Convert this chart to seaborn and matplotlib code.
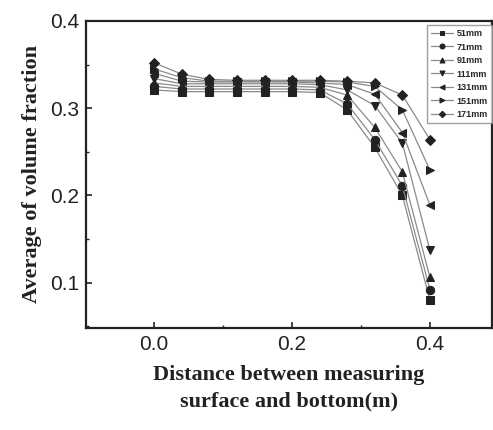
import numpy as np
import pandas as pd
import matplotlib
matplotlib.use('Agg')
import matplotlib.pyplot as plt
from matplotlib.ticker import MultipleLocator
import seaborn as sns

# Data
distance = [0.0, 0.04, 0.08, 0.12, 0.16, 0.20, 0.24, 0.28, 0.32, 0.36, 0.40]
labels = ['51mm', '71mm', '91mm', '111mm', '131mm', '151mm', '171mm']
markers = ['s', 'o', '^', 'v', '<', '>', 'D']

s51 = [0.321, 0.319, 0.319, 0.319, 0.319, 0.319, 0.318, 0.298, 0.255, 0.200, 0.080]
s71 = [0.325, 0.322, 0.322, 0.322, 0.322, 0.322, 0.321, 0.305, 0.264, 0.211, 0.092]
s91 = [0.329, 0.325, 0.325, 0.325, 0.325, 0.325, 0.324, 0.315, 0.278, 0.227, 0.106]
s111 = [0.334, 0.328, 0.328, 0.328, 0.328, 0.328, 0.327, 0.321, 0.303, 0.260, 0.137]
s131 = [0.340, 0.331, 0.330, 0.330, 0.330, 0.330, 0.329, 0.327, 0.316, 0.272, 0.189]
s151 = [0.345, 0.335, 0.331, 0.331, 0.331, 0.331, 0.331, 0.330, 0.325, 0.298, 0.229]
s171 = [0.352, 0.339, 0.333, 0.332, 0.332, 0.332, 0.332, 0.331, 0.329, 0.315, 0.264]
series = [s51, s71, s91, s111, s131, s151, s171]

sns.set_style('white')
plt.rcParams['font.family'] = ['Liberation Sans', 'DejaVu Sans']

fig = plt.figure(figsize=(4.93, 4.30), dpi=100)
ax = fig.add_axes([0.1744, 0.2372, 0.8235, 0.714])

for lab, mk, vals in zip(labels, markers, series):
    df = pd.DataFrame({'x': distance, 'y': vals})
    ms = 5.5 if mk == 'D' else 6
    sns.lineplot(data=df, x='x', y='y', ax=ax, color='#8a8a8a', linewidth=0.9,
                 marker=mk, markersize=ms, markerfacecolor='#222222',
                 markeredgecolor='#222222', label=lab)

ax.set_xlim(-0.099, 0.49)
ax.set_ylim(0.048, 0.4)
ax.xaxis.set_minor_locator(MultipleLocator(0.1))
ax.yaxis.set_minor_locator(MultipleLocator(0.05))
ax.set_xticks([0.0, 0.2, 0.4])
ax.set_xticklabels(['0.0', '0.2', '0.4'])
ax.set_yticks([0.1, 0.2, 0.3, 0.4])
ax.set_yticklabels(['0.1', '0.2', '0.3', '0.4'])
ax.tick_params(which='major', direction='in', length=4, width=1.2, labelsize=15,
               colors='#222222', left=True, bottom=True, pad=5)
ax.tick_params(which='minor', direction='in', length=2.5, width=1, left=True, bottom=True)
for sp in ax.spines.values():
    sp.set_linewidth(1.6)
    sp.set_color('#222222')

serif = ['Liberation Serif', 'DejaVu Serif']
ax.set_xlabel('Distance between measuring\nsurface and bottom(m)', family=serif,
              fontweight='bold', fontsize=16, color='#222222', labelpad=8, linespacing=1.45)
ax.set_ylabel('Average of volume fraction', family=serif, fontweight='bold',
              fontsize=16, color='#222222', labelpad=6)

leg = ax.legend(loc='upper right', frameon=True, fancybox=False,
                handlelength=2.5, handletextpad=0.35, borderpad=0.45, labelspacing=0.5,
                borderaxespad=0, bbox_to_anchor=(1.0, 0.987), markerscale=0.6,
                prop={'weight': 'bold', 'size': 6.5})
leg.get_frame().set_edgecolor('#888888')
leg.get_frame().set_linewidth(1.0)

fig.savefig('out.png', dpi=100)
